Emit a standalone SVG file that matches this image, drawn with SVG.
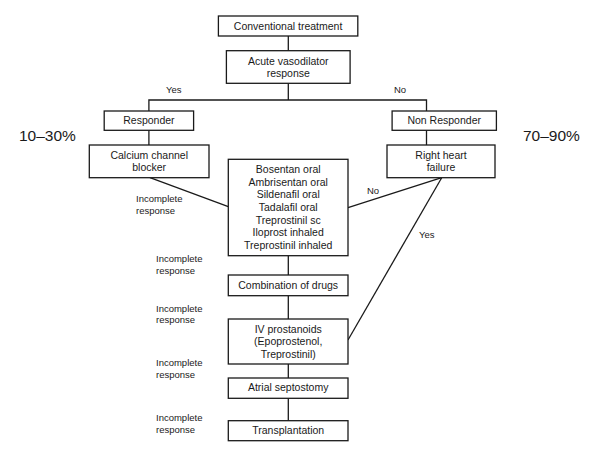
<svg xmlns="http://www.w3.org/2000/svg" width="599" height="452" viewBox="0 0 599 452">
<style>
.box{fill:#fff;stroke:#1a1a1a;stroke-width:1.3}
.ln{fill:none;stroke:#1a1a1a;stroke-width:1.3}
.t{font-family:"Liberation Sans",Arial,sans-serif;font-size:10.5px;fill:#1a1a1a;text-anchor:middle}
.s{font-family:"Liberation Sans",Arial,sans-serif;font-size:9.5px;fill:#1a1a1a}
.p{font-family:"Liberation Sans",Arial,sans-serif;font-size:15.5px;fill:#1a1a1a}
</style>
<rect width="599" height="452" fill="#fff"/>
<g id="connectors">
<line class="ln" x1="288.3" y1="36" x2="288.3" y2="50.7"/>
<polyline class="ln" points="288.3,83.3 288.3,100"/>
<polyline class="ln" points="148.9,111 148.9,100 426.5,100 426.5,111"/>
<line class="ln" x1="148.9" y1="130.3" x2="148.9" y2="145"/>
<line class="ln" x1="426.5" y1="130.3" x2="426.5" y2="145"/>
<line class="ln" x1="150" y1="177.7" x2="228.3" y2="206.7"/>
<line class="ln" x1="348" y1="207.7" x2="441.7" y2="177.7"/>
<line class="ln" x1="441.7" y1="177.7" x2="348" y2="340"/>
<line class="ln" x1="288.3" y1="255.7" x2="288.3" y2="275"/>
<line class="ln" x1="288.3" y1="295.7" x2="288.3" y2="319"/>
<line class="ln" x1="288.3" y1="364" x2="288.3" y2="378"/>
<line class="ln" x1="288.3" y1="398.3" x2="288.3" y2="420.7"/>
<text class="s" x="166" y="93.3">Yes</text>
<text class="s" x="394" y="93.3">No</text>
<text class="s" x="367" y="194">No</text>
<text class="s" x="419" y="237.5">Yes</text>
<text class="s" x="136" y="202.3">Incomplete</text>
<text class="s" x="136" y="214.3">response</text>
<text class="s" x="156" y="261.6">Incomplete</text>
<text class="s" x="156" y="274">response</text>
<text class="s" x="156" y="311.6">Incomplete</text>
<text class="s" x="156" y="323.3">response</text>
<text class="s" x="156" y="366">Incomplete</text>
<text class="s" x="156" y="378.3">response</text>
<text class="s" x="156" y="420.6">Incomplete</text>
<text class="s" x="156" y="432.6">response</text>
</g>
<text class="p" x="19" y="140.5">10–30%</text>
<text class="p" x="523" y="140.5">70–90%</text>
<g id="conventional">
<rect class="box" x="218.4" y="16" width="139.4" height="20"/>
<text class="t" x="288.1" y="29.7">Conventional treatment</text>
</g>
<g id="acute">
<rect class="box" x="226.4" y="50.7" width="123.7" height="32.6"/>
<text class="t" x="288.3" y="64.7">Acute vasodilator</text>
<text class="t" x="288.3" y="77.4">response</text>
</g>
<g id="responder">
<rect class="box" x="104.2" y="111" width="89.4" height="19.3"/>
<text class="t" x="148.9" y="123.7">Responder</text>
</g>
<g id="nonresponder">
<rect class="box" x="392.1" y="111" width="104.3" height="19.3"/>
<text class="t" x="444.2" y="123.7">Non Responder</text>
</g>
<g id="ccb">
<rect class="box" x="89.3" y="145" width="119.7" height="32.7"/>
<text class="t" x="149.2" y="158.7">Calcium channel</text>
<text class="t" x="149.2" y="171.4">blocker</text>
</g>
<g id="rhf">
<rect class="box" x="387" y="145" width="108" height="32.7"/>
<text class="t" x="441" y="158.7">Right heart</text>
<text class="t" x="441" y="171.4">failure</text>
</g>
<g id="drugs">
<rect class="box" x="228.3" y="159.3" width="119.7" height="96.4"/>
<text class="t" x="288.2" y="173">Bosentan oral</text>
<text class="t" x="288.2" y="185.7">Ambrisentan oral</text>
<text class="t" x="288.2" y="198.3">Sildenafil oral</text>
<text class="t" x="288.2" y="211">Tadalafil oral</text>
<text class="t" x="288.2" y="223.7">Treprostinil sc</text>
<text class="t" x="288.2" y="236.3">Iloprost inhaled</text>
<text class="t" x="288.2" y="249">Treprostinil inhaled</text>
</g>
<g id="combination">
<rect class="box" x="228.3" y="275" width="119.7" height="20.7"/>
<text class="t" x="288.2" y="289.4">Combination of drugs</text>
</g>
<g id="iv">
<rect class="box" x="228.3" y="319" width="119.7" height="45"/>
<text class="t" x="288.2" y="332.7">IV prostanoids</text>
<text class="t" x="288.2" y="345.4">(Epoprostenol,</text>
<text class="t" x="288.2" y="358">Treprostinil)</text>
</g>
<g id="atrial">
<rect class="box" x="228.3" y="378" width="119.7" height="20.3"/>
<text class="t" x="288.2" y="391.4">Atrial septostomy</text>
</g>
<g id="transplant">
<rect class="box" x="228.3" y="420.7" width="119.7" height="20"/>
<text class="t" x="288.2" y="434.4">Transplantation</text>
</g>
</svg>
